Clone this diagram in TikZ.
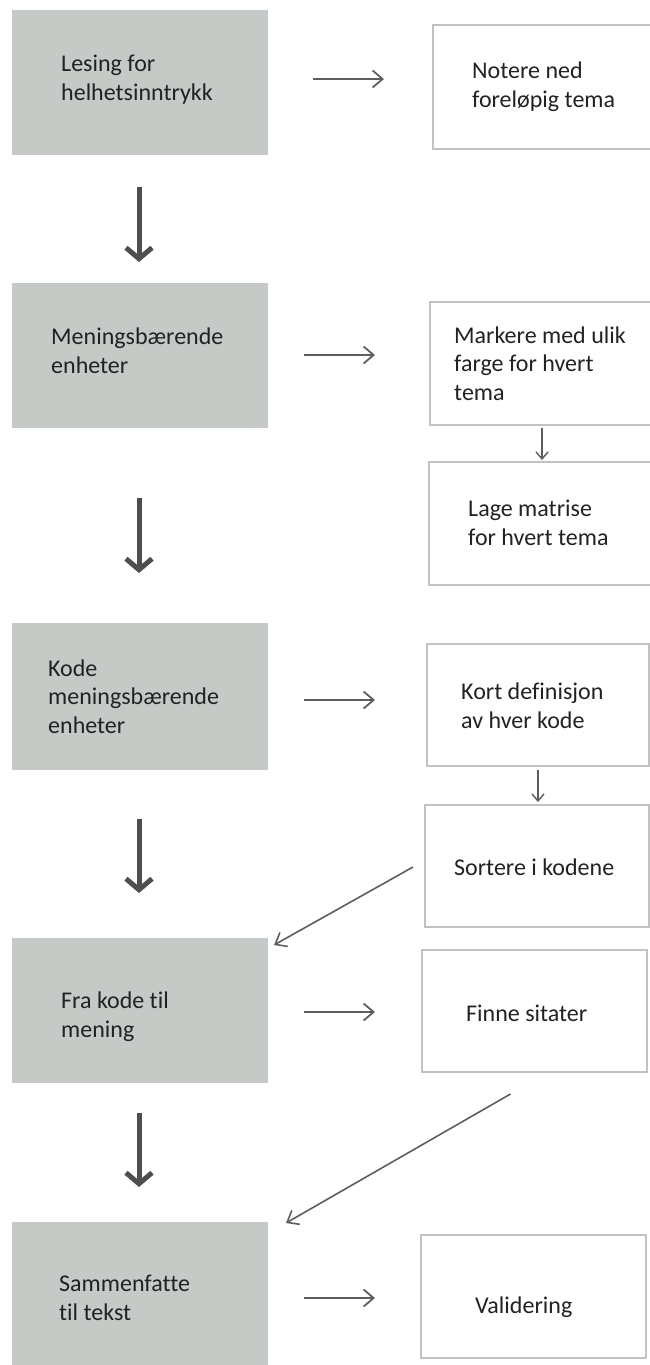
\documentclass[tikz,border=0pt]{standalone}
\usepackage{fontspec}
\setmainfont{Carlito}[Ligatures={NoCommon}]
\usetikzlibrary{arrows.meta,calc}
\definecolor{boxgray}{HTML}{C5CAC7}
\definecolor{edgegray}{HTML}{C2C2C2}
\definecolor{arrgray}{HTML}{5E5E5E}
\definecolor{bigarr}{HTML}{4E4E4E}
\definecolor{txt}{HTML}{222222}
\begin{document}
\begin{tikzpicture}[x=1pt,y=-1pt,
  gbox/.style={fill=boxgray, draw=none, inner sep=0pt, outer sep=0pt, anchor=north west},
  wbox/.style={draw=edgegray, line width=1.8pt, fill=white, inner sep=0pt, outer sep=0pt, anchor=north west},
  lbl/.style={font=\fontsize{24}{28.5}\selectfont, text=txt, align=left, inner sep=0pt, anchor=base west},
  thinarr/.style={draw=arrgray, line width=1.8pt, -{Straight Barb[length=10pt,width=17pt]}},
  bigarrow/.style={draw=bigarr, line width=5pt, -{Straight Barb[length=11pt,width=26pt]}},
  smallarr/.style={draw=arrgray, line width=1.4pt, -{Straight Barb[length=7pt,width=12pt]}},
  diagarr/.style={draw=arrgray, line width=1.6pt, -{Straight Barb[length=10pt,width=16pt]}}
]
\useasboundingbox (0,0) rectangle (650,1365);
\clip (0,0) rectangle (650,1365);
\fill[white] (0,0) rectangle (650,1365);

% left column boxes
\node[gbox, minimum width=256, minimum height=145] (g1) at (12,10) {};
\node[gbox, minimum width=256, minimum height=145] (g2) at (12,283) {};
\node[gbox, minimum width=256, minimum height=147] (g3) at (12,623) {};
\node[gbox, minimum width=256, minimum height=145] (g4) at (12,938) {};
\node[gbox, minimum width=256, minimum height=160] (g5) at (12,1222) {};

% right column boxes
\node[wbox, minimum width=225, minimum height=124] (w1) at (433,25) {};
\node[wbox, minimum width=228, minimum height=123] (w2) at (430,302) {};
\node[wbox, minimum width=229, minimum height=123] (w3) at (429,462) {};
\node[wbox, minimum width=222, minimum height=122] (w4) at (427,644) {};
\node[wbox, minimum width=224, minimum height=122] (w5) at (425,805) {};
\node[wbox, minimum width=225, minimum height=122] (w6) at (422,950) {};
\node[wbox, minimum width=225, minimum height=123] (w7) at (421,1235) {};

% texts (anchor at baseline of the last line)
\node[lbl] (t1) at (61,100) {Lesing for\\helhetsinntrykk};
\node[lbl] (t2) at (51,373) {Meningsbærende\\enheter};
\node[lbl] (t3) at (48,733) {Kode\\meningsbærende\\enheter};
\node[lbl] (t4) at (61,1037) {Fra kode til\\mening};
\node[lbl] (t5) at (59,1320) {Sammenfatte\\til tekst};
\node[lbl] (u1) at (472,107) {Notere ned\\foreløpig tema};
\node[lbl] (u2) at (454,400) {Markere med ulik\\farge for hvert\\tema};
\node[lbl] (u3) at (468,545) {Lage matrise\\for hvert tema};
\node[lbl] (u4) at (461,728) {Kort definisjon\\av hver kode};
\node[lbl] (u5) at (454,875) {Sortere i kodene};
\node[lbl] (u6) at (466,1021) {Finne sitater};
\node[lbl] (u7) at (475,1313) {Validering};

% right arrows
\draw[thinarr] ($(g1.east)+(45,-3.5)$) -- ($(g1.east -| w1.west)+(-49,-3.5)$);
\draw[thinarr] ($(g2.east)+(36,-0.5)$) -- ($(g2.east -| w2.west)+(-55,-0.5)$);
\draw[thinarr] ($(g3.east)+(36,3.5)$) -- ($(g3.east -| w4.west)+(-52,3.5)$);
\draw[thinarr] ($(g4.east)+(36,1.5)$) -- ($(g4.east -| w6.west)+(-47,1.5)$);
\draw[thinarr] ($(g5.north east)+(36,76)$) -- ($(g5.north east -| w7.west)+(-46,76)$);

% big down arrows
\draw[bigarrow] ($(g1.south)+(-1,32)$) -- ($(g2.north)+(-1,-21)$);
\draw[bigarrow] ($(g2.south)+(-1,70)$) -- ($(g3.north)+(-1,-50)$);
\draw[bigarrow] ($(g3.south)+(-1,49)$) -- ($(g4.north)+(-1,-45)$);
\draw[bigarrow] ($(g4.south)+(-1,30)$) -- ($(g5.north)+(-1,-35)$);

% small down arrows
\draw[smallarr] ($(w2.south)+(-2,3)$) -- ($(w2.south)+(-2,35)$);
\draw[smallarr] ($(w4.south)+(0,4)$) -- ($(w4.south)+(0,36)$);

% diagonal arrows
\draw[diagarr] ($(w5.west)+(-12,1)$) -- ($(g4.north east)+(6,7)$);
\draw[diagarr] ($(w6.south)+(-24,22)$) -- ($(g5.north east)+(18,1)$);
\end{tikzpicture}
\end{document}
